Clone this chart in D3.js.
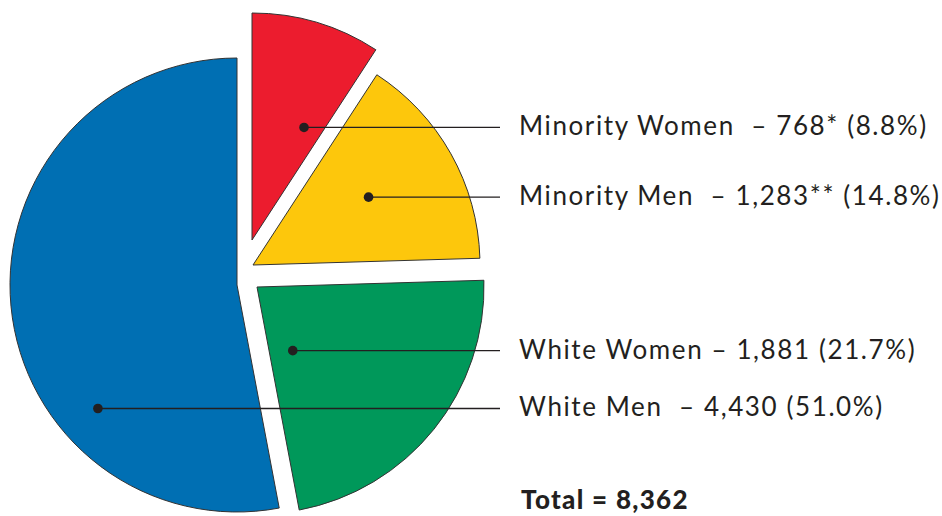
<!DOCTYPE html>
<html>
<head>
<meta charset="utf-8">
<script src="https://cdn.jsdelivr.net/npm/d3@7"></script>
<style>
  body { margin: 0; background: #fff; }
  text { font-family: Lato, 'Noto Sans', sans-serif; fill: #231f20; white-space: pre; }
</style>
</head>
<body>
<svg></svg>
<script>
// data
const categories = ['Minority Women', 'Minority Men', 'White Women', 'White Men'];
const counts = [768, 1283, 1881, 4430];
const shares = ['8.8%', '14.8%', '21.7%', '51.0%'];
const marks = ['*', '**', '', ''];
const gaps = ['  ', '  ', ' ', '  '];
const total = 8362;

const colors = ['#ec1c2e', '#fdc70c', '#00985a', '#006fb3'];

// how far each wedge is pulled out, and where its dot sits (share of wedge angle, radius)
const explode = [[15, -45], [16, -20], [20, 2], [0, 0]];
const dotPos = [[0.75, 124], [0.48, 134], [0.77, 73], [0.31, 186]];

const width = 942;
const height = 516;
const radius = 227;
const cx = 237;
const cy = 285;
const lineEnd = 500;
const labelX = 519;

const svg = d3.select('svg')
  .attr('width', width)
  .attr('height', height);

const pie = d3.pie().sort(null).value(d => d);
const arcs = pie(counts);
const arc = d3.arc().innerRadius(0).outerRadius(radius);

const g = svg.append('g')
  .attr('transform', `translate(${cx},${cy})`);

g.selectAll('path')
  .data(arcs)
  .enter()
  .append('path')
  .attr('transform', (d, i) => `translate(${explode[i][0]},${explode[i][1]})`)
  .attr('d', arc)
  .attr('fill', (d, i) => colors[i])
  .attr('stroke', '#333')
  .attr('stroke-width', 1)
  .attr('stroke-linejoin', 'miter');

const fmt = d3.format(',');

const dots = arcs.map((d, i) => {
  const a = d.startAngle + (d.endAngle - d.startAngle) * dotPos[i][0];
  const r = dotPos[i][1];
  return {
    x: cx + explode[i][0] + r * Math.sin(a),
    y: cy + explode[i][1] - r * Math.cos(a),
    i,
  };
});

const leaders = svg.append('g');

leaders.selectAll('line')
  .data(dots)
  .enter()
  .append('line')
  .attr('x1', d => d.x)
  .attr('y1', d => d.y)
  .attr('x2', lineEnd)
  .attr('y2', d => d.y)
  .attr('stroke', '#231f20')
  .attr('stroke-width', 1.3);

leaders.selectAll('circle')
  .data(dots)
  .enter()
  .append('circle')
  .attr('cx', d => d.x)
  .attr('cy', d => d.y)
  .attr('r', 4.8)
  .attr('fill', '#231f20');

leaders.selectAll('text')
  .data(dots)
  .enter()
  .append('text')
  .attr('x', labelX)
  .attr('y', d => d.y + 8)
  .attr('font-size', 26)
  .attr('letter-spacing', 1.6)
  .text(d => `${categories[d.i]}${gaps[d.i]}– ${fmt(counts[d.i])}${marks[d.i]} (${shares[d.i]})`);

svg.append('text')
  .attr('x', 521)
  .attr('y', 509)
  .attr('font-size', 26)
  .attr('font-weight', 900)
  .attr('letter-spacing', 1.3)
  .text(`Total = ${fmt(total)}`);
</script>
</body>
</html>
